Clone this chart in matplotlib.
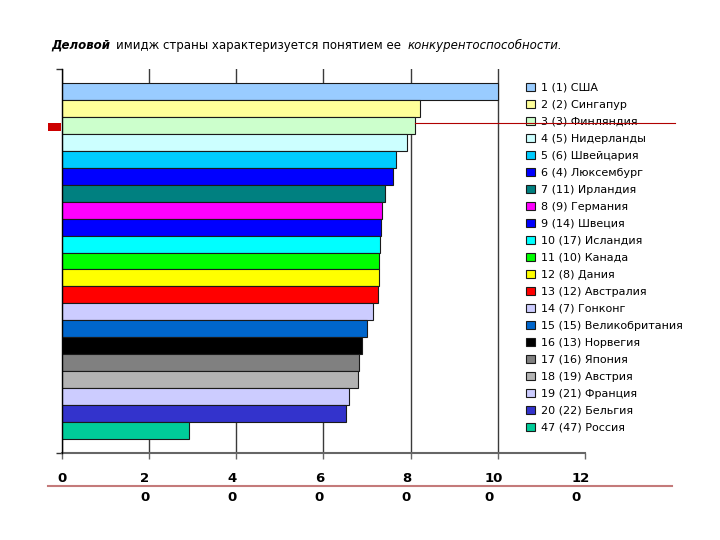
import numpy as np
import matplotlib
matplotlib.use('Agg')
import matplotlib.pyplot as plt
import matplotlib.transforms as mtransforms
from matplotlib.offsetbox import TextArea, HPacker, AnchoredOffsetbox
from matplotlib.patches import Rectangle
from matplotlib.lines import Line2D

countries = ["1 (1) США", "2 (2) Сингапур", "3 (3) Финляндия", "4 (5) Нидерланды",
             "5 (6) Швейцария", "6 (4) Люксембург", "7 (11) Ирландия", "8 (9) Германия",
             "9 (14) Швеция", "10 (17) Исландия", "11 (10) Канада", "12 (8) Дания",
             "13 (12) Австралия", "14 (7) Гонконг", "15 (15) Великобритания",
             "16 (13) Норвегия", "17 (16) Япония", "18 (19) Австрия", "19 (21) Франция",
             "20 (22) Бельгия", "47 (47) Россия"]
values = [100.0, 82.1, 81.0, 79.2, 76.6, 76.1, 74.1, 73.5, 73.2, 72.9, 72.8,
          72.8, 72.6, 71.3, 70.0, 68.8, 68.2, 68.0, 65.9, 65.3, 29.3]
colors = ["#99ccff", "#ffff99", "#ccffcc", "#ccffff", "#00ccff", "#0000ff",
          "#008080", "#ff00ff", "#0000ff", "#00ffff", "#00ff00", "#ffff00",
          "#ff0000", "#ccccff", "#0066cc", "#000000", "#808080", "#b3b3b3",
          "#ccccff", "#3333cc", "#00cc99"]
tick_values = [0, 20, 40, 60, 80, 100, 120]
tick_labels = ["0", "2\n0", "4\n0", "6\n0", "8\n0", "10\n0", "12\n0"]

W, H = 720, 540
fig = plt.figure(figsize=(7.2, 5.4), dpi=100)
fig.patch.set_facecolor('white')

ax = fig.add_axes([61.5 / W, 1 - 452.7 / H, (585 - 61.5) / W, (452.7 - 69.3) / H])
pos = np.arange(len(values))
bars = ax.barh(pos, values, height=1.0, color=colors, edgecolor='#1a1a1a',
               linewidth=0.8, zorder=3)

ax.set_xlim(0, 120)
ax.set_ylim(len(values) - 0.5 + 0.777, -0.5 - 0.777)

for v in tick_values[:-1]:
    ax.axvline(v, color='#3a3a3a', linewidth=1.0, zorder=1)

for s in ['top', 'right']:
    ax.spines[s].set_visible(False)
ax.spines['left'].set_color('black')
ax.spines['left'].set_linewidth(1.0)
ax.spines['left'].set_zorder(4)
ax.spines['bottom'].set_color('#666666')
ax.spines['bottom'].set_linewidth(1.5)

ax.set_yticks(list(ax.get_ylim()))
ax.set_yticklabels([])
ax.tick_params(axis='y', length=4.5, width=1.0, color='#333333')

ax.set_xticks(tick_values)
ax.set_xticklabels(tick_labels, fontsize=9.5, fontweight='bold',
                   linespacing=1.55, multialignment='left', va='top')
ax.tick_params(axis='x', length=4, width=1.0, color='#666666', pad=10)
offset = mtransforms.ScaledTranslation(-0.04, 0, fig.dpi_scale_trans)
for i, lab in enumerate(ax.get_xticklabels()):
    if i > 0:
        lab.set_transform(lab.get_transform() + offset)

leg = ax.legend(bars.patches, countries, loc='upper left',
                bbox_to_anchor=(526 / W, 1 - 82.5 / H), bbox_transform=fig.transFigure,
                frameon=False, fontsize=8, handlelength=0.8, handleheight=0.8,
                handletextpad=0.55, labelspacing=0.62, borderpad=0, borderaxespad=0)
for p in leg.get_patches():
    p.set_edgecolor('#1a1a1a')
    p.set_linewidth(0.8)

# title with mixed styles
t1 = TextArea("Деловой", textprops=dict(fontsize=8.5, fontweight='bold', fontstyle='italic'))
t2 = TextArea("имидж страны характеризуется понятием ее", textprops=dict(fontsize=8.5))
t3 = TextArea("конкурентоспособности.", textprops=dict(fontsize=8.5, fontstyle='italic'))
hp = HPacker(children=[t1, t2, t3], align='baseline', pad=0, sep=4.5)
ab = AnchoredOffsetbox(loc='center left', child=hp, pad=0, borderpad=0, frameon=False,
                       bbox_to_anchor=(51 / W, 1 - 45 / H), bbox_transform=fig.transFigure)
fig.add_artist(ab)

# slide decorations
fig.add_artist(Line2D([48 / W, 672 / W], [1 - 485.7 / H, 1 - 485.7 / H],
                      color='#c47a7a', linewidth=1.5, transform=fig.transFigure))
fig.add_artist(Line2D([415 / W, 675 / W], [1 - 123.3 / H, 1 - 123.3 / H],
                      color='#b00000', linewidth=0.8, transform=fig.transFigure, zorder=10))
fig.add_artist(Rectangle((48 / W, 1 - 131 / H), 13 / W, 8 / H, facecolor='#cc0000',
                         edgecolor='none', transform=fig.transFigure, zorder=10))

fig.savefig('out.png', dpi=100, facecolor='white')
